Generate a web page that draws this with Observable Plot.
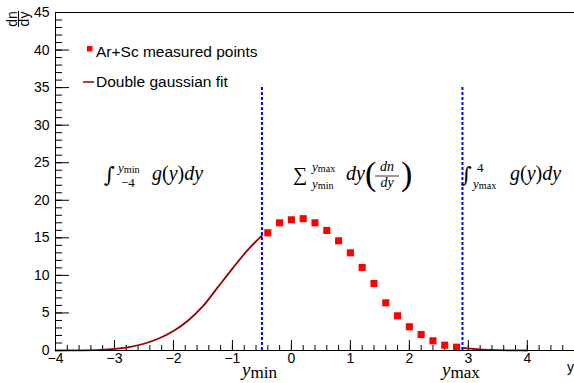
<!DOCTYPE html>
<html><head><meta charset="utf-8">
<script src="https://cdn.jsdelivr.net/npm/d3@7"></script>
<script src="https://cdn.jsdelivr.net/npm/@observablehq/plot@0.6"></script>
<style>body{margin:0;background:#fff} svg{display:block}</style>
</head><body><div id="chart"></div>
<script>
// Measured points (Ar+Sc)
const pointX = [-0.4,-0.2,0,0.2,0.4,0.6,0.8,1.0,1.2,1.4,1.6,1.8,2.0,2.2,2.4,2.6,2.8];
const pointY = [15.67,17.0,17.4,17.55,17.0,15.98,14.6,13.0,11.05,8.92,6.35,4.62,3.16,2.13,1.29,0.71,0.44];
// Double gaussian fit
const fitLeftX = [-4,-3.75,-3.5,-3.25,-3,-2.75,-2.5,-2.25,-2,-1.75,-1.5,-1.25,-1,-0.75,-0.5];
const fitLeftY = [0,0.01,0.03,0.09,0.22,0.45,0.9,1.6,2.6,4.0,5.9,8.4,10.9,13.3,15.3];
const fitRightX = [2.9,3.0,3.25,3.5,3.75,4.0];
const fitRightY = [0.35,0.28,0.13,0.05,0.02,0.0];
// Integration limits
const cutX = [-0.5, 2.9];
const cutTop = 35;
// Axes
const xDomain = [-4, 4.8];
const yDomain = [0, 45];
const xMajor = [-4,-3,-2,-1,0,1,2,3,4];
const xMinor = d3.range(-4, 4.79, 0.2);
const yMajor = [0,5,10,15,20,25,30,35,40,45];
const yMinor = d3.range(0, 45.5, 1);

const W = 574, H = 383, mL = 55, mR = 0, mT = 12, mB = 33;
const fh = H - mT - mB, fw = W - mL - mR;
const points = pointX.map((x, i) => ({x, y: pointY[i]}));
const fitL = fitLeftX.map((x, i) => ({x, y: fitLeftY[i]}));
const fitR = fitRightX.map((x, i) => ({x, y: fitRightY[i]}));
const fmt = d => d < 0 ? "\u2212" + (-d) : String(d);
const sans = "'Liberation Sans', Arial, Helvetica, sans-serif";
const serif = "'Liberation Serif', 'Times New Roman', serif";
const fitColor = "#990000";

const plot = Plot.plot({
  width: W, height: H,
  marginLeft: mL, marginRight: mR, marginTop: mT, marginBottom: mB,
  x: {domain: xDomain, axis: null},
  y: {domain: yDomain, axis: null},
  style: {fontFamily: sans, background: "white", overflow: "visible"},
  marks: [
    Plot.tickX(xMinor, {x: d => d, stroke: "black", insetTop: fh - 5}),
    Plot.tickX(xMajor, {x: d => d, stroke: "black", insetTop: fh - 10}),
    Plot.tickY(yMinor, {y: d => d, stroke: "black", insetRight: fw - 7}),
    Plot.tickY(yMajor, {y: d => d, stroke: "black", insetRight: fw - 14}),
    Plot.text(xMajor, {x: d => d, frameAnchor: "bottom", lineAnchor: "top", dy: 3, text: fmt, fontSize: 14, fill: "black"}),
    Plot.text(yMajor, {y: d => d, frameAnchor: "left", textAnchor: "end", dx: -6, text: fmt, fontSize: 14, fill: "black"}),
    Plot.line(fitL, {x: "x", y: "y", stroke: fitColor, strokeWidth: 1.8, curve: "monotone-x"}),
    Plot.line(fitR, {x: "x", y: "y", stroke: fitColor, strokeWidth: 1.8, curve: "monotone-x"}),
    Plot.ruleX(cutX, {x: d => d, y1: 0, y2: cutTop, stroke: "#0000ff", strokeWidth: 2, strokeDasharray: "3,2"}),
    Plot.dot(points, {x: "x", y: "y", symbol: "square", r: 4, fill: "#ff0000", stroke: "none"}),
    Plot.frame({stroke: "black"})
  ]
});
document.getElementById("chart").append(plot);

const svg = d3.select(plot);
const g = svg.append("g").attr("text-anchor", "start");
function t(x, y, s, opts = {}) {
  const el = g.append("text").attr("x", x).attr("y", y).text(s)
    .attr("font-family", opts.family || serif)
    .attr("font-size", opts.size || 20)
    .attr("text-anchor", opts.anchor || "start")
    .attr("fill", "black");
  if (opts.italic) el.attr("font-style", "italic");
  return el;
}
// y title dn/dy rotated
const yt = g.append("g").attr("transform", "translate(18,19) rotate(-90)");
yt.append("text").attr("x", 0).attr("y", -1).attr("text-anchor", "middle").attr("font-family", sans).attr("font-size", 14).text("dn");
yt.append("text").attr("x", 0).attr("y", 11).attr("text-anchor", "middle").attr("font-family", sans).attr("font-size", 14).text("dy");
yt.append("line").attr("x1", -8).attr("x2", 8).attr("y1", 0.5).attr("y2", 0.5).attr("stroke", "black").attr("stroke-width", 1);
// x title
t(574, 372, "y", {family: sans, size: 14, anchor: "end"});

// Legend
g.append("rect").attr("x", 87).attr("y", 46).attr("width", 5.5).attr("height", 5.5).attr("fill", "#ff0000");
t(96, 56.5, "Ar+Sc measured points", {family: sans, size: 15.5});
g.append("line").attr("x1", 83).attr("x2", 94).attr("y1", 82).attr("y2", 82).attr("stroke", fitColor).attr("stroke-width", 1.5);
t(96, 87, "Double gaussian fit", {family: sans, size: 15.5});

// g(y)dy helper
function gydy(x, y) {
  const el = g.append("text").attr("x", x).attr("y", y).attr("font-family", serif).attr("font-size", 20)
    .attr("text-anchor", "start").attr("fill", "black");
  el.append("tspan").attr("font-style", "italic").text("g");
  el.append("tspan").text("(");
  el.append("tspan").attr("font-style", "italic").text("y");
  el.append("tspan").text(")");
  el.append("tspan").attr("font-style", "italic").text("dy");
}
function ysub(x, y, sub, size, subScale = 0.78) {
  const el = g.append("text").attr("x", x).attr("y", y).attr("font-family", serif).attr("font-size", size)
    .attr("text-anchor", "start").attr("fill", "black");
  el.append("tspan").attr("font-style", "italic").text("y");
  el.append("tspan").attr("font-size", size * subScale).attr("dy", size * 0.1).text(sub);
}
const intFont = "'DejaVu Serif', serif";

// Left integral
t(104, 182, "\u222B", {size: 21, family: intFont, italic: true});
ysub(118, 172, "min", 13);
t(121, 187, "\u22124", {size: 13});
gydy(152, 180);

// Sum
t(293, 181, "\u2211", {size: 20});
ysub(312, 171, "max", 13);
ysub(312, 188, "min", 13);
t(346, 180, "dy", {size: 20, italic: true});
t(365, 185, "(", {size: 34});
t(387, 171, "dn", {size: 14, italic: true, anchor: "middle"});
g.append("line").attr("x1", 375).attr("x2", 399).attr("y1", 176).attr("y2", 176).attr("stroke", "black").attr("stroke-width", 0.8);
t(387, 187, "dy", {size: 14, italic: true, anchor: "middle"});
t(401, 185, ")", {size: 34});

// Right integral
t(461, 182, "\u222B", {size: 21, family: intFont, italic: true});
t(477, 172, "4", {size: 13});
ysub(473, 188, "max", 13);
gydy(510, 180);

// Bottom labels
ysub(242, 376, "min", 19, 0.9);
ysub(442, 376, "max", 19, 0.9);
</script>
</body></html>
